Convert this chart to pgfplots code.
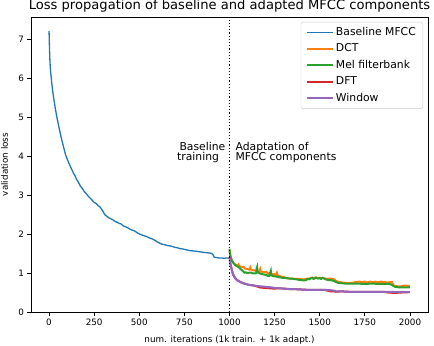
\documentclass[border=0pt]{standalone}
\usepackage{fontspec}
\setmainfont{DejaVu Sans}
\usepackage{pgfplots}
\pgfplotsset{compat=1.18}

\definecolor{c0}{HTML}{1F77B4}
\definecolor{c1}{HTML}{FF7F0E}
\definecolor{c2}{HTML}{2CA02C}
\definecolor{c3}{HTML}{D62728}
\definecolor{c4}{HTML}{9467BD}

\newcommand{\tickfont}{\fontsize{8.8bp}{10bp}\selectfont}
\newcommand{\legfont}{\fontsize{10.8bp}{12bp}\selectfont}

\begin{document}
\begin{tikzpicture}
\useasboundingbox (-31bp,-34bp) rectangle (403bp,312bp);
\begin{axis}[
  at={(0,0)}, anchor=south west,
  scale only axis, width=397bp, height=295bp,
  xmin=-100, xmax=2100, ymin=0, ymax=7.58,
  xtick={0,250,...,2000}, ytick={0,1,...,7},
  tick pos=left, tick align=outside, major tick length=3.5bp,
  every tick/.style={black, line width=0.8bp},
  axis line style={line width=0.8bp},
  ticklabel style={font=\tickfont},
  /pgf/number format/assume math mode=true,
  /pgf/number format/1000 sep={},
  xlabel={num. iterations (1k train. + 1k adapt.)},
  ylabel={validation loss},
  every axis x label/.style={at={(axis description cs:0.5,-0.1017)}, anchor=base, font=\tickfont},
  every axis y label/.style={at={(axis description cs:-0.058,0.5)}, anchor=base, rotate=90, font=\tickfont},
  title={Loss propagation of baseline and adapted MFCC components},
  every axis title/.style={at={(axis description cs:0.5,1.0254)}, anchor=base, font=\fontsize{13.1bp}{15bp}\selectfont},
  legend cell align=left,
  legend image code/.code={\draw[#1] (0bp,0bp) -- (26bp,0bp);},
  legend style={at={(1,1)}, anchor=north east, xshift=-5bp, yshift=-5bp,
    draw=black!20, rounded corners=2bp, fill=white, fill opacity=0.8, text opacity=1,
    font=\legfont, inner xsep=5bp, inner ysep=3bp, row sep=2bp,
    nodes={inner ysep=2bp, text height=8bp, text depth=2.5bp}},
]

% Baseline MFCC (0..1000)
\addplot[c0, line width=1.3bp] coordinates {
(0,7.22) (2,6.85) (4,6.55) (6,6.35) (8,6.2) (11,6.07) (15,5.88) (19,5.72) (24,5.55) (29,5.40) (35,5.22) (42,5.04) (48,4.90) (55,4.75) (61,4.61) (68,4.47) (75,4.34) (82,4.21) (88,4.10) (96,3.98) (105,3.88) (115,3.77) (125,3.67) (135,3.57) (145,3.49) (153,3.40) (162,3.34) (173,3.24) (185,3.17) (196,3.09) (208,3.03) (220,2.96) (235,2.89) (249,2.82) (263,2.78) (272,2.73) (280,2.71) (287,2.67) (291,2.64) (297,2.60) (303,2.55) (309,2.50) (320,2.46) (335,2.41) (350,2.38) (362,2.34) (374,2.31) (388,2.28) (400,2.26) (412,2.21) (425,2.19) (437,2.16) (448,2.13) (462,2.10) (475,2.08) (490,2.03) (503,2.00) (520,1.97) (540,1.94) (558,1.90) (576,1.87) (590,1.83) (600,1.80) (613,1.77) (627,1.74) (640,1.73) (655,1.71) (669,1.70) (685,1.68) (700,1.66) (712,1.65) (724,1.63) (740,1.62) (760,1.60) (778,1.58) (797,1.57) (815,1.56) (830,1.55) (845,1.54) (860,1.53) (880,1.52) (899,1.51) (905,1.49) (910,1.46) (915,1.41) (925,1.40) (940,1.39) (955,1.39) (970,1.38) (985,1.39) (1000,1.39)
};
\addlegendentry{Baseline MFCC}

% DCT
\addplot[c1, line width=2bp] coordinates {
(1000,1.58) (1003,1.50) (1006,1.42) (1010,1.36) (1015,1.31) (1020,1.28) (1025,1.24) (1030,1.22) (1038,1.20) (1045,1.19) (1050,1.22) (1053,1.18) (1060,1.17) (1070,1.15) (1078,1.16) (1085,1.12) (1092,1.11) (1100,1.10) (1110,1.09) (1115,1.14) (1118,1.09) (1125,1.08) (1135,1.07) (1145,1.06) (1156,1.05) (1165,1.04) (1170,1.10) (1173,1.04) (1185,1.03) (1195,1.02) (1205,1.03) (1210,1.00) (1220,0.99) (1230,0.98) (1240,0.97) (1248,0.97) (1255,0.95) (1262,1.01) (1265,0.95) (1275,0.93) (1280,0.92) (1290,0.90) (1300,0.90) (1310,0.88) (1320,0.87) (1335,0.86) (1345,0.86) (1360,0.85) (1375,0.85) (1390,0.85) (1400,0.84) (1414,0.84) (1425,0.85) (1440,0.86) (1450,0.87) (1460,0.88) (1470,0.88) (1480,0.89) (1490,0.87) (1500,0.88) (1510,0.87) (1520,0.87) (1530,0.86) (1540,0.85) (1550,0.86) (1560,0.86) (1570,0.85) (1580,0.84) (1590,0.80) (1600,0.78) (1610,0.77) (1620,0.76) (1640,0.75) (1660,0.74) (1680,0.75) (1690,0.76) (1700,0.77) (1720,0.78) (1730,0.77) (1740,0.77) (1750,0.78) (1760,0.76) (1770,0.77) (1780,0.78) (1790,0.77) (1800,0.77) (1810,0.78) (1820,0.76) (1830,0.77) (1840,0.78) (1850,0.77) (1860,0.77) (1870,0.76) (1880,0.76) (1890,0.77) (1900,0.77) (1905,0.72) (1910,0.68) (1920,0.67) (1930,0.66) (1950,0.66) (1960,0.67) (1970,0.68) (1980,0.68) (1990,0.67) (2000,0.67)
};
\addlegendentry{DCT}

% Mel filterbank
\addplot[c2, line width=2bp] coordinates {
(1000,1.62) (1002,1.52) (1005,1.44) (1008,1.38) (1012,1.34) (1016,1.30) (1020,1.27) (1024,1.25) (1028,1.23) (1034,1.20) (1040,1.18) (1047,1.16) (1055,1.14) (1062,1.10) (1070,1.07) (1076,1.04) (1083,1.01) (1090,1.02) (1100,1.00) (1110,1.01) (1120,1.01) (1130,0.99) (1140,0.99) (1148,1.00) (1150,1.12) (1153,1.16) (1156,1.02) (1165,1.00) (1175,0.98) (1185,0.97) (1195,0.96) (1205,0.95) (1212,0.93) (1220,0.93) (1226,1.02) (1229,1.06) (1232,0.94) (1245,0.92) (1260,0.91) (1270,0.90) (1280,0.89) (1292,0.88) (1304,0.88) (1315,0.87) (1330,0.86) (1341,0.86) (1355,0.85) (1370,0.84) (1380,0.83) (1395,0.82) (1414,0.81) (1425,0.82) (1432,0.85) (1440,0.84) (1450,0.86) (1458,0.88) (1465,0.85) (1472,0.86) (1480,0.88) (1490,0.86) (1500,0.87) (1507,0.85) (1515,0.88) (1525,0.86) (1532,0.84) (1540,0.83) (1550,0.82) (1560,0.82) (1570,0.81) (1578,0.80) (1590,0.77) (1600,0.75) (1620,0.74) (1640,0.73) (1660,0.73) (1681,0.73) (1700,0.73) (1720,0.73) (1740,0.72) (1760,0.72) (1780,0.73) (1800,0.73) (1820,0.72) (1840,0.72) (1860,0.72) (1880,0.72) (1895,0.71) (1905,0.68) (1915,0.65) (1930,0.64) (1945,0.63) (1960,0.63) (1975,0.63) (1990,0.63) (2000,0.64)
};
\addlegendentry{Mel filterbank}

% DFT
\addplot[c3, line width=2bp] coordinates {
(1000,1.42) (1002,1.34) (1004,1.27) (1007,1.20) (1010,1.14) (1014,1.06) (1019,0.97) (1024,0.93) (1028,0.90) (1033,0.86) (1037,0.84) (1043,0.82) (1050,0.80) (1057,0.78) (1065,0.76) (1075,0.74) (1090,0.72) (1105,0.70) (1120,0.69) (1135,0.68) (1150,0.66) (1170,0.63) (1193,0.62) (1220,0.61) (1250,0.60) (1275,0.61) (1304,0.60) (1330,0.59) (1350,0.59) (1390,0.58) (1431,0.57) (1480,0.57) (1525,0.57) (1560,0.53) (1580,0.53) (1589,0.52) (1620,0.53) (1660,0.52) (1700,0.52) (1750,0.52) (1800,0.52) (1850,0.52) (1880,0.50) (1915,0.49) (1950,0.50) (2000,0.51)
};
\addlegendentry{DFT}

% Window
\addplot[c4, line width=2bp] coordinates {
(1000,1.42) (1002,1.34) (1004,1.27) (1007,1.20) (1010,1.14) (1014,1.06) (1019,0.97) (1024,0.93) (1028,0.90) (1033,0.86) (1037,0.84) (1043,0.82) (1050,0.80) (1057,0.78) (1065,0.76) (1075,0.74) (1090,0.72) (1105,0.70) (1120,0.69) (1135,0.68) (1150,0.67) (1170,0.66) (1193,0.65) (1220,0.64) (1250,0.62) (1275,0.61) (1304,0.60) (1330,0.59) (1350,0.59) (1390,0.58) (1431,0.57) (1480,0.57) (1525,0.57) (1560,0.56) (1580,0.55) (1589,0.53) (1620,0.53) (1660,0.52) (1700,0.52) (1750,0.52) (1800,0.52) (1850,0.52) (1900,0.52) (1915,0.51) (1950,0.51) (2000,0.51)
};
\addlegendentry{Window}

% separator between baseline training and adaptation
\addplot[black, line width=1.2bp, dash pattern=on 1.2bp off 2bp, forget plot] coordinates {(1000,0) (1000,7.58)};

\node[font=\legfont, anchor=base east, inner sep=0pt] at (axis cs:978,4.14) {Baseline};
\node[font=\legfont, anchor=base west, inner sep=0pt] at (axis cs:709,3.88) {training};
\node[font=\legfont, anchor=base west, inner sep=0pt] at (axis cs:1033,4.14) {Adaptation of};
\node[font=\legfont, anchor=base west, inner sep=0pt] at (axis cs:1033,3.88) {MFCC components};
\end{axis}
\end{tikzpicture}
\end{document}
